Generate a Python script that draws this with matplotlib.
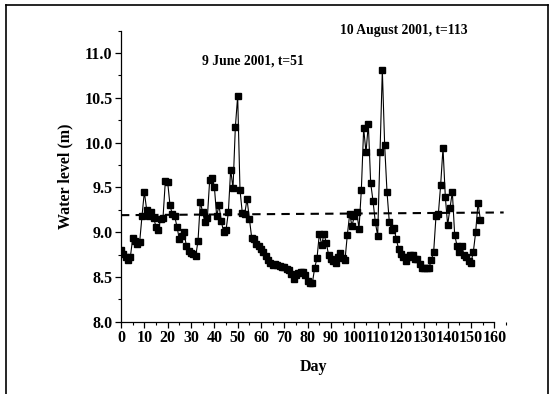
import matplotlib
matplotlib.use('Agg')
import matplotlib.pyplot as plt
from matplotlib.lines import Line2D
from matplotlib.ticker import MultipleLocator

# daily water level readings (m), day 0 .. 154
level = [
    8.80, 8.76, 8.72, 8.69, 8.72, 8.93, 8.90, 8.87, 8.89, 9.18,
    9.45, 9.25, 9.18, 9.23, 9.16, 9.06, 9.02, 9.15, 9.16, 9.57,
    9.56, 9.30, 9.20, 9.18, 9.06, 8.92, 8.96, 9.00, 8.85, 8.79,
    8.77, 8.76, 8.73, 8.90, 9.34, 9.22, 9.11, 9.16, 9.58, 9.61,
    9.51, 9.18, 9.30, 9.12, 9.00, 9.02, 9.22, 9.70, 9.49, 10.17,
    10.52, 9.47, 9.21, 9.20, 9.37, 9.15, 8.94, 8.92, 8.87, 8.84,
    8.81, 8.78, 8.73, 8.69, 8.66, 8.63, 8.64, 8.63, 8.62, 8.61,
    8.61, 8.59, 8.58, 8.53, 8.48, 8.52, 8.54, 8.56, 8.56, 8.52,
    8.46, 8.43, 8.43, 8.60, 8.71, 8.98, 8.86, 8.98, 8.88, 8.74,
    8.70, 8.68, 8.66, 8.72, 8.77, 8.71, 8.69, 8.97, 9.20, 9.07,
    9.18, 9.23, 9.04, 9.47, 10.16, 9.89, 10.21, 9.55, 9.35, 9.11,
    8.96, 9.90, 10.81, 9.97, 9.45, 9.11, 9.02, 9.05, 8.92, 8.81,
    8.76, 8.72, 8.68, 8.72, 8.74, 8.75, 8.70, 8.70, 8.65, 8.60,
    8.60, 8.60, 8.60, 8.69, 8.78, 9.18, 9.20, 9.53, 9.94, 9.39,
    9.08, 9.27, 9.45, 8.97, 8.85, 8.78, 8.85, 8.75, 8.72, 8.68,
    8.66, 8.78, 9.00, 9.33, 9.14,
]
days = list(range(len(level)))

# dashed reference line (slightly sloped)
ref_x = [0, 164]
ref_y = [9.19, 9.22]

xticks = list(range(0, 161, 10))
yticks = [8.0, 8.5, 9.0, 9.5, 10.0, 10.5, 11.0]

plt.rcParams['font.family'] = ['Liberation Serif', 'DejaVu Serif']
plt.rcParams['font.weight'] = 'bold'

fig = plt.figure(figsize=(5.5, 3.94), dpi=100)
ax = fig.add_axes([0.22, 0.1835, 0.70, 0.7385])

ax.plot(days, level, color='black', linewidth=0.8, marker='s',
        markersize=5, markerfacecolor='black', markeredgecolor='black')
ax.plot(ref_x, ref_y, color='black', linewidth=1.5, linestyle=(0, (4, 3)))

ax.set_xlim(0, 165)
ax.set_ylim(8.0, 11.25)
ax.spines['top'].set_visible(False)
ax.spines['right'].set_visible(False)
ax.spines['bottom'].set_bounds(0, 160)
ax.spines['left'].set_linewidth(0.9)
ax.spines['bottom'].set_linewidth(0.9)

ax.set_xticks(xticks)
ax.set_yticks(yticks)
ax.set_yticklabels(['%.1f' % v for v in yticks])
ax.xaxis.set_minor_locator(MultipleLocator(5))
ax.yaxis.set_minor_locator(MultipleLocator(0.25))
ax.tick_params(which='major', direction='out', length=4, width=0.9, labelsize=11.5, pad=2)
ax.tick_params(which='minor', direction='out', length=2.5, width=0.8)

ax.set_xlabel('Day', fontsize=11.5, fontweight='bold', labelpad=9)
ax.set_ylabel('Water level (m)', fontsize=11.5, fontweight='bold', labelpad=8)

ax.text(56.5, 10.91, '9 June 2001, t=51', fontsize=9.8, fontweight='bold',
        ha='center', va='center')
ax.text(121, 11.25, '10 August 2001, t=113', fontsize=9.8, fontweight='bold',
        ha='center', va='center')

# scanned page frame
for xs, ys in [([0.011, 0.011], [0.0, 0.988]),
               ([0.011, 0.997], [0.988, 0.988]),
               ([0.997, 0.997], [0.0, 0.988])]:
    fig.add_artist(Line2D(xs, ys, color='black', linewidth=1.2,
                          transform=fig.transFigure))

plt.savefig('out.png', dpi=100)
